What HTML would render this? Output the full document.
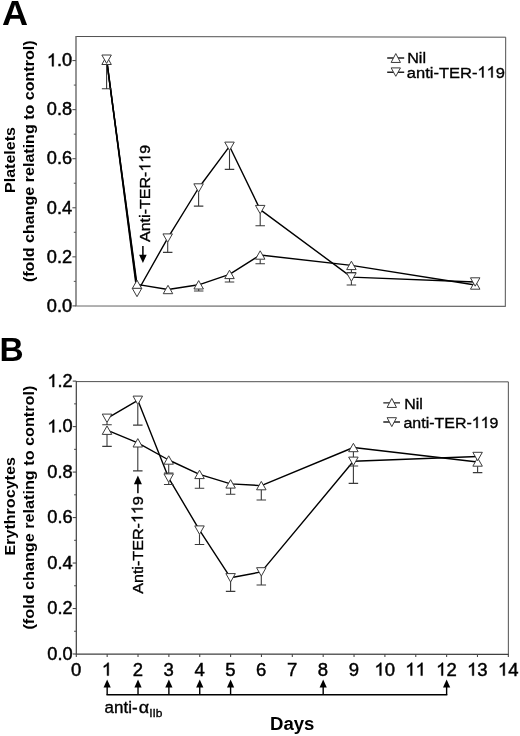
<!DOCTYPE html>
<html><head><meta charset="utf-8"><title>Figure</title>
<style>
html,body{margin:0;padding:0;background:#fff;}
svg{display:block;will-change:transform;filter:grayscale(1);}
text{font-family:"Liberation Sans",sans-serif;fill:#000;font-kerning:none;}
.h{fill:none;stroke:none;}
</style></head><body>
<svg width="520" height="736" viewBox="0 0 520 736">
<rect x="0" y="0" width="520" height="736" fill="#fff"/>
<path d="M76.0 36.5L505.7 37.2L505.3 306.4" fill="none" stroke="#505050" stroke-width="1"/>
<path d="M76.0 36.0L76.0 305.9L505.8 306.4" fill="none" stroke="#6a6a6a" stroke-width="1.4"/>
<path d="M72.4 305.90L76.0 305.90" stroke="#555" stroke-width="1.1"/>
<text transform="translate(72.20,311.65) scale(1.03,1)" text-anchor="end" style="font-size:17.7px;stroke:#000;stroke-width:0.45px;">0.0</text>
<path d="M73.8 281.36L76.0 281.36" stroke="#555" stroke-width="1"/>
<path d="M72.4 256.83L76.0 256.83" stroke="#555" stroke-width="1.1"/>
<text transform="translate(72.20,262.58) scale(1.03,1)" text-anchor="end" style="font-size:17.7px;stroke:#000;stroke-width:0.45px;">0.2</text>
<path d="M73.8 232.29L76.0 232.29" stroke="#555" stroke-width="1"/>
<path d="M72.4 207.76L76.0 207.76" stroke="#555" stroke-width="1.1"/>
<text transform="translate(72.20,213.51) scale(1.03,1)" text-anchor="end" style="font-size:17.7px;stroke:#000;stroke-width:0.45px;">0.4</text>
<path d="M73.8 183.22L76.0 183.22" stroke="#555" stroke-width="1"/>
<path d="M72.4 158.69L76.0 158.69" stroke="#555" stroke-width="1.1"/>
<text transform="translate(72.20,164.44) scale(1.03,1)" text-anchor="end" style="font-size:17.7px;stroke:#000;stroke-width:0.45px;">0.6</text>
<path d="M73.8 134.16L76.0 134.16" stroke="#555" stroke-width="1"/>
<path d="M72.4 109.62L76.0 109.62" stroke="#555" stroke-width="1.1"/>
<text transform="translate(72.20,115.37) scale(1.03,1)" text-anchor="end" style="font-size:17.7px;stroke:#000;stroke-width:0.45px;">0.8</text>
<path d="M73.8 85.08L76.0 85.08" stroke="#555" stroke-width="1"/>
<path d="M72.4 60.55L76.0 60.55" stroke="#555" stroke-width="1.1"/>
<g transform="translate(72.20,66.30) scale(1.03,1)"><text id="t1" text-anchor="end" style="font-size:17.7px;stroke:#000;stroke-width:0.45px;"><tspan class="h">1</tspan>.0</text><path d="M763 0H583V1147Q518 1085 412.5 1023T223 930V1104Q374 1175 487 1276T647 1472H763Z" transform="translate(-24.612,0.000) scale(0.008643,-0.008643)" fill="#000" stroke="#000" stroke-width="52.1"/></g>
<path d="M106.60 60.30L137.00 284.40L168.00 289.50L198.70 284.80L229.50 274.40L260.20 255.00L351.40 265.40L475.20 285.00" fill="none" stroke="#000" stroke-width="1.4" stroke-linejoin="round"/>
<path d="M106.60 59.20L137.00 292.50L167.70 238.10L198.60 188.00L229.50 146.30L260.20 209.60L351.40 277.10L475.20 282.00" fill="none" stroke="#000" stroke-width="1.4" stroke-linejoin="round"/>
<path d="M106.70 60.00L137.00 288.00" fill="none" stroke="#000" stroke-width="1.5" stroke-linejoin="round"/>
<path d="M106.60 64.50L106.60 88.70M101.85 88.70L111.35 88.70" fill="none" stroke="#3a3a3a" stroke-width="1.1"/>
<path d="M198.70 289.00L198.70 291.00M193.95 291.00L203.45 291.00" fill="none" stroke="#3a3a3a" stroke-width="1.1"/>
<path d="M229.50 278.60L229.50 282.00M224.75 282.00L234.25 282.00" fill="none" stroke="#3a3a3a" stroke-width="1.1"/>
<path d="M260.20 259.20L260.20 263.70M255.45 263.70L264.95 263.70" fill="none" stroke="#3a3a3a" stroke-width="1.1"/>
<path d="M351.40 269.60L351.40 272.50M346.65 272.50L356.15 272.50" fill="none" stroke="#3a3a3a" stroke-width="1.1"/>
<path d="M167.70 242.30L167.70 252.40M162.95 252.40L172.45 252.40" fill="none" stroke="#3a3a3a" stroke-width="1.1"/>
<path d="M198.60 192.20L198.60 206.10M193.85 206.10L203.35 206.10" fill="none" stroke="#3a3a3a" stroke-width="1.1"/>
<path d="M229.50 150.50L229.50 169.40M224.75 169.40L234.25 169.40" fill="none" stroke="#3a3a3a" stroke-width="1.1"/>
<path d="M260.20 213.80L260.20 225.70M255.45 225.70L264.95 225.70" fill="none" stroke="#3a3a3a" stroke-width="1.1"/>
<path d="M351.40 281.30L351.40 285.00M346.65 285.00L356.15 285.00" fill="none" stroke="#3a3a3a" stroke-width="1.1"/>
<path d="M101.85 64.50L111.35 64.50L106.60 56.10Z" fill="#fff" stroke="#3a3a3a" stroke-width="1"/>
<path d="M132.25 288.60L141.75 288.60L137.00 280.20Z" fill="#fff" stroke="#3a3a3a" stroke-width="1"/>
<path d="M163.25 293.70L172.75 293.70L168.00 285.30Z" fill="#fff" stroke="#3a3a3a" stroke-width="1"/>
<path d="M193.95 289.00L203.45 289.00L198.70 280.60Z" fill="#fff" stroke="#3a3a3a" stroke-width="1"/>
<path d="M224.75 278.60L234.25 278.60L229.50 270.20Z" fill="#fff" stroke="#3a3a3a" stroke-width="1"/>
<path d="M255.45 259.20L264.95 259.20L260.20 250.80Z" fill="#fff" stroke="#3a3a3a" stroke-width="1"/>
<path d="M346.65 269.60L356.15 269.60L351.40 261.20Z" fill="#fff" stroke="#3a3a3a" stroke-width="1"/>
<path d="M470.45 289.20L479.95 289.20L475.20 280.80Z" fill="#fff" stroke="#3a3a3a" stroke-width="1"/>
<path d="M101.85 55.00L111.35 55.00L106.60 63.40Z" fill="#fff" stroke="#3a3a3a" stroke-width="1"/>
<path d="M132.25 288.30L141.75 288.30L137.00 296.70Z" fill="#fff" stroke="#3a3a3a" stroke-width="1"/>
<path d="M162.95 233.90L172.45 233.90L167.70 242.30Z" fill="#fff" stroke="#3a3a3a" stroke-width="1"/>
<path d="M193.85 183.80L203.35 183.80L198.60 192.20Z" fill="#fff" stroke="#3a3a3a" stroke-width="1"/>
<path d="M224.75 142.10L234.25 142.10L229.50 150.50Z" fill="#fff" stroke="#3a3a3a" stroke-width="1"/>
<path d="M255.45 205.40L264.95 205.40L260.20 213.80Z" fill="#fff" stroke="#3a3a3a" stroke-width="1"/>
<path d="M346.65 272.90L356.15 272.90L351.40 281.30Z" fill="#fff" stroke="#3a3a3a" stroke-width="1"/>
<path d="M470.45 277.80L479.95 277.80L475.20 286.20Z" fill="#fff" stroke="#3a3a3a" stroke-width="1"/>
<path d="M387.2 58L404.2 58M387.2 72.25L404.2 72.25" stroke="#222" stroke-width="1.3"/>
<path d="M391.15 62.45L400.45 62.45L395.80 53.55Z" fill="#fff" stroke="#3a3a3a" stroke-width="1"/>
<path d="M391.15 67.90L400.45 67.90L395.80 76.30Z" fill="#fff" stroke="#3a3a3a" stroke-width="1"/>
<text transform="translate(407.20,63.40) scale(1.04,1)" style="font-size:15.5px;stroke:#000;stroke-width:0.35px;">Nil</text>
<g transform="translate(406.80,77.50) scale(1.065,1)"><text id="t2" style="font-size:15.5px;stroke:#000;stroke-width:0.35px;">anti-TER-<tspan class="h">1</tspan><tspan class="h">1</tspan>9</text><path d="M763 0H583V1147Q518 1085 412.5 1023T223 930V1104Q374 1175 487 1276T647 1472H763Z" transform="translate(66.266,0.000) scale(0.007568,-0.007568)" fill="#000" stroke="#000" stroke-width="46.2"/><path d="M763 0H583V1147Q518 1085 412.5 1023T223 930V1104Q374 1175 487 1276T647 1472H763Z" transform="translate(74.887,0.000) scale(0.007568,-0.007568)" fill="#000" stroke="#000" stroke-width="46.2"/></g>
<g transform="translate(150.30,242.00) rotate(-90) scale(1.035,1)"><text id="t3" style="font-size:15.5px;stroke:#000;stroke-width:0.35px;">Anti-TER-<tspan class="h">1</tspan><tspan class="h">1</tspan>9</text><path d="M763 0H583V1147Q518 1085 412.5 1023T223 930V1104Q374 1175 487 1276T647 1472H763Z" transform="translate(68.003,0.000) scale(0.007568,-0.007568)" fill="#000" stroke="#000" stroke-width="46.2"/><path d="M763 0H583V1147Q518 1085 412.5 1023T223 930V1104Q374 1175 487 1276T647 1472H763Z" transform="translate(76.632,0.000) scale(0.007568,-0.007568)" fill="#000" stroke="#000" stroke-width="46.2"/></g>
<path d="M142.9 245.9L142.9 257" stroke="#000" stroke-width="1.5"/>
<path d="M139.1 254.8L146.7 254.8L142.9 263.0Z" fill="#000"/>
<text transform="translate(15.20,160.05) rotate(-90) scale(1.047,1)" text-anchor="middle" style="font-size:15.3px;font-weight:bold;">Platelets</text>
<text transform="translate(33.65,161.30) rotate(-90) scale(1.05,1)" text-anchor="middle" style="font-size:15.3px;font-weight:bold;">(fold change relating to control)</text>
<text transform="translate(2.10,24.90) scale(1.04,1)" style="font-size:34.7px;font-weight:bold;">A</text>
<text transform="translate(-0.40,361.40)" style="font-size:33.4px;font-weight:bold;">B</text>
<path d="M76.3 381.6L508.35 381.85L508.35 654.3" fill="none" stroke="#505050" stroke-width="1"/>
<path d="M76.3 381.1L76.3 654.1L508.65000000000003 654.4" fill="none" stroke="#404040" stroke-width="1.2"/>
<path d="M72.7 654.00L76.3 654.00" stroke="#484848" stroke-width="1.1"/>
<text transform="translate(72.70,659.85) scale(1.03,1)" text-anchor="end" style="font-size:17.7px;stroke:#000;stroke-width:0.45px;">0.0</text>
<path d="M74.1 631.26L76.3 631.26" stroke="#484848" stroke-width="1"/>
<path d="M72.7 608.52L76.3 608.52" stroke="#484848" stroke-width="1.1"/>
<text transform="translate(72.70,614.37) scale(1.03,1)" text-anchor="end" style="font-size:17.7px;stroke:#000;stroke-width:0.45px;">0.2</text>
<path d="M74.1 585.78L76.3 585.78" stroke="#484848" stroke-width="1"/>
<path d="M72.7 563.04L76.3 563.04" stroke="#484848" stroke-width="1.1"/>
<text transform="translate(72.70,568.89) scale(1.03,1)" text-anchor="end" style="font-size:17.7px;stroke:#000;stroke-width:0.45px;">0.4</text>
<path d="M74.1 540.30L76.3 540.30" stroke="#484848" stroke-width="1"/>
<path d="M72.7 517.56L76.3 517.56" stroke="#484848" stroke-width="1.1"/>
<text transform="translate(72.70,523.41) scale(1.03,1)" text-anchor="end" style="font-size:17.7px;stroke:#000;stroke-width:0.45px;">0.6</text>
<path d="M74.1 494.82L76.3 494.82" stroke="#484848" stroke-width="1"/>
<path d="M72.7 472.08L76.3 472.08" stroke="#484848" stroke-width="1.1"/>
<text transform="translate(72.70,477.93) scale(1.03,1)" text-anchor="end" style="font-size:17.7px;stroke:#000;stroke-width:0.45px;">0.8</text>
<path d="M74.1 449.34L76.3 449.34" stroke="#484848" stroke-width="1"/>
<path d="M72.7 426.60L76.3 426.60" stroke="#484848" stroke-width="1.1"/>
<g transform="translate(72.70,432.45) scale(1.03,1)"><text id="t4" text-anchor="end" style="font-size:17.7px;stroke:#000;stroke-width:0.45px;"><tspan class="h">1</tspan>.0</text><path d="M763 0H583V1147Q518 1085 412.5 1023T223 930V1104Q374 1175 487 1276T647 1472H763Z" transform="translate(-24.612,0.000) scale(0.008643,-0.008643)" fill="#000" stroke="#000" stroke-width="52.1"/></g>
<path d="M74.1 403.86L76.3 403.86" stroke="#484848" stroke-width="1"/>
<path d="M72.7 381.12L76.3 381.12" stroke="#484848" stroke-width="1.1"/>
<g transform="translate(72.70,386.97) scale(1.03,1)"><text id="t5" text-anchor="end" style="font-size:17.7px;stroke:#000;stroke-width:0.45px;"><tspan class="h">1</tspan>.2</text><path d="M763 0H583V1147Q518 1085 412.5 1023T223 930V1104Q374 1175 487 1276T647 1472H763Z" transform="translate(-24.612,0.000) scale(0.008643,-0.008643)" fill="#000" stroke="#000" stroke-width="52.1"/></g>
<path d="M76.30 654.0L76.30 657.0" stroke="#484848" stroke-width="1.1"/>
<text transform="translate(76.10,675.60) scale(1.035,1)" text-anchor="middle" style="font-size:17.9px;stroke:#000;stroke-width:0.45px;">0</text>
<path d="M107.16 654.0L107.16 657.0" stroke="#484848" stroke-width="1.1"/>
<g transform="translate(106.96,675.60) scale(1.035,1)"><text id="t6" text-anchor="middle" style="font-size:17.9px;stroke:#000;stroke-width:0.45px;"><tspan class="h">1</tspan></text><path d="M763 0H583V1147Q518 1085 412.5 1023T223 930V1104Q374 1175 487 1276T647 1472H763Z" transform="translate(-4.975,0.000) scale(0.008740,-0.008740)" fill="#000" stroke="#000" stroke-width="51.5"/></g>
<path d="M138.02 654.0L138.02 657.0" stroke="#484848" stroke-width="1.1"/>
<text transform="translate(137.82,675.60) scale(1.035,1)" text-anchor="middle" style="font-size:17.9px;stroke:#000;stroke-width:0.45px;">2</text>
<path d="M168.88 654.0L168.88 657.0" stroke="#484848" stroke-width="1.1"/>
<text transform="translate(168.68,675.60) scale(1.035,1)" text-anchor="middle" style="font-size:17.9px;stroke:#000;stroke-width:0.45px;">3</text>
<path d="M199.74 654.0L199.74 657.0" stroke="#484848" stroke-width="1.1"/>
<text transform="translate(199.54,675.60) scale(1.035,1)" text-anchor="middle" style="font-size:17.9px;stroke:#000;stroke-width:0.45px;">4</text>
<path d="M230.60 654.0L230.60 657.0" stroke="#484848" stroke-width="1.1"/>
<text transform="translate(230.40,675.60) scale(1.035,1)" text-anchor="middle" style="font-size:17.9px;stroke:#000;stroke-width:0.45px;">5</text>
<path d="M261.46 654.0L261.46 657.0" stroke="#484848" stroke-width="1.1"/>
<text transform="translate(261.26,675.60) scale(1.035,1)" text-anchor="middle" style="font-size:17.9px;stroke:#000;stroke-width:0.45px;">6</text>
<path d="M292.32 654.0L292.32 657.0" stroke="#484848" stroke-width="1.1"/>
<text transform="translate(292.12,675.60) scale(1.035,1)" text-anchor="middle" style="font-size:17.9px;stroke:#000;stroke-width:0.45px;">7</text>
<path d="M323.18 654.0L323.18 657.0" stroke="#484848" stroke-width="1.1"/>
<text transform="translate(322.98,675.60) scale(1.035,1)" text-anchor="middle" style="font-size:17.9px;stroke:#000;stroke-width:0.45px;">8</text>
<path d="M354.04 654.0L354.04 657.0" stroke="#484848" stroke-width="1.1"/>
<text transform="translate(353.84,675.60) scale(1.035,1)" text-anchor="middle" style="font-size:17.9px;stroke:#000;stroke-width:0.45px;">9</text>
<path d="M384.90 654.0L384.90 657.0" stroke="#484848" stroke-width="1.1"/>
<g transform="translate(384.70,675.60) scale(1.035,1)"><text id="t7" text-anchor="middle" style="font-size:17.9px;stroke:#000;stroke-width:0.45px;"><tspan class="h">1</tspan>0</text><path d="M763 0H583V1147Q518 1085 412.5 1023T223 930V1104Q374 1175 487 1276T647 1472H763Z" transform="translate(-9.949,0.000) scale(0.008740,-0.008740)" fill="#000" stroke="#000" stroke-width="51.5"/></g>
<path d="M415.76 654.0L415.76 657.0" stroke="#484848" stroke-width="1.1"/>
<g transform="translate(415.56,675.60) scale(1.035,1)"><text id="t8" text-anchor="middle" style="font-size:17.9px;stroke:#000;stroke-width:0.45px;"><tspan class="h">1</tspan><tspan class="h">1</tspan></text><path d="M763 0H583V1147Q518 1085 412.5 1023T223 930V1104Q374 1175 487 1276T647 1472H763Z" transform="translate(-9.949,0.000) scale(0.008740,-0.008740)" fill="#000" stroke="#000" stroke-width="51.5"/><path d="M763 0H583V1147Q518 1085 412.5 1023T223 930V1104Q374 1175 487 1276T647 1472H763Z" transform="translate(0.000,0.000) scale(0.008740,-0.008740)" fill="#000" stroke="#000" stroke-width="51.5"/></g>
<path d="M446.62 654.0L446.62 657.0" stroke="#484848" stroke-width="1.1"/>
<g transform="translate(446.42,675.60) scale(1.035,1)"><text id="t9" text-anchor="middle" style="font-size:17.9px;stroke:#000;stroke-width:0.45px;"><tspan class="h">1</tspan>2</text><path d="M763 0H583V1147Q518 1085 412.5 1023T223 930V1104Q374 1175 487 1276T647 1472H763Z" transform="translate(-9.949,0.000) scale(0.008740,-0.008740)" fill="#000" stroke="#000" stroke-width="51.5"/></g>
<path d="M477.48 654.0L477.48 657.0" stroke="#484848" stroke-width="1.1"/>
<g transform="translate(477.28,675.60) scale(1.035,1)"><text id="t10" text-anchor="middle" style="font-size:17.9px;stroke:#000;stroke-width:0.45px;"><tspan class="h">1</tspan>3</text><path d="M763 0H583V1147Q518 1085 412.5 1023T223 930V1104Q374 1175 487 1276T647 1472H763Z" transform="translate(-9.949,0.000) scale(0.008740,-0.008740)" fill="#000" stroke="#000" stroke-width="51.5"/></g>
<path d="M508.34 654.0L508.34 657.0" stroke="#484848" stroke-width="1.1"/>
<g transform="translate(508.14,675.60) scale(1.035,1)"><text id="t11" text-anchor="middle" style="font-size:17.9px;stroke:#000;stroke-width:0.45px;"><tspan class="h">1</tspan>4</text><path d="M763 0H583V1147Q518 1085 412.5 1023T223 930V1104Q374 1175 487 1276T647 1472H763Z" transform="translate(-9.949,0.000) scale(0.008740,-0.008740)" fill="#000" stroke="#000" stroke-width="51.5"/></g>
<path d="M107.00 430.20L137.80 442.80L168.70 460.00L199.50 474.40L230.60 483.90L261.30 485.60L353.40 447.50L477.60 462.00" fill="none" stroke="#000" stroke-width="1.4" stroke-linejoin="round"/>
<path d="M107.00 418.30L137.80 400.30L168.70 478.10L199.50 530.10L230.60 577.80L261.30 571.90L353.40 461.30L477.60 456.50" fill="none" stroke="#000" stroke-width="1.4" stroke-linejoin="round"/>
<path d="M107.00 434.40L107.00 446.40M102.25 446.40L111.75 446.40" fill="none" stroke="#3a3a3a" stroke-width="1.1"/>
<path d="M137.80 447.00L137.80 470.90M133.05 470.90L142.55 470.90" fill="none" stroke="#3a3a3a" stroke-width="1.1"/>
<path d="M168.70 464.20L168.70 473.00M163.95 473.00L173.45 473.00" fill="none" stroke="#3a3a3a" stroke-width="1.1"/>
<path d="M199.50 478.60L199.50 488.30M194.75 488.30L204.25 488.30" fill="none" stroke="#3a3a3a" stroke-width="1.1"/>
<path d="M230.60 488.10L230.60 494.30M225.85 494.30L235.35 494.30" fill="none" stroke="#3a3a3a" stroke-width="1.1"/>
<path d="M261.30 489.80L261.30 500.00M256.55 500.00L266.05 500.00" fill="none" stroke="#3a3a3a" stroke-width="1.1"/>
<path d="M353.40 451.70L353.40 466.00M348.65 466.00L358.15 466.00" fill="none" stroke="#3a3a3a" stroke-width="1.1"/>
<path d="M477.60 466.20L477.60 472.60M472.85 472.60L482.35 472.60" fill="none" stroke="#3a3a3a" stroke-width="1.1"/>
<path d="M107.00 422.50L107.00 424.80M102.25 424.80L111.75 424.80" fill="none" stroke="#3a3a3a" stroke-width="1.1"/>
<path d="M137.80 404.50L137.80 425.10M133.05 425.10L142.55 425.10" fill="none" stroke="#3a3a3a" stroke-width="1.1"/>
<path d="M168.70 482.30L168.70 484.50M163.95 484.50L173.45 484.50" fill="none" stroke="#3a3a3a" stroke-width="1.1"/>
<path d="M199.50 534.30L199.50 544.50M194.75 544.50L204.25 544.50" fill="none" stroke="#3a3a3a" stroke-width="1.1"/>
<path d="M230.60 582.00L230.60 591.40M225.85 591.40L235.35 591.40" fill="none" stroke="#3a3a3a" stroke-width="1.1"/>
<path d="M261.30 576.10L261.30 585.00M256.55 585.00L266.05 585.00" fill="none" stroke="#3a3a3a" stroke-width="1.1"/>
<path d="M353.40 465.50L353.40 483.40M348.65 483.40L358.15 483.40" fill="none" stroke="#3a3a3a" stroke-width="1.1"/>
<path d="M102.25 434.40L111.75 434.40L107.00 426.00Z" fill="#fff" stroke="#3a3a3a" stroke-width="1"/>
<path d="M133.05 447.00L142.55 447.00L137.80 438.60Z" fill="#fff" stroke="#3a3a3a" stroke-width="1"/>
<path d="M163.95 464.20L173.45 464.20L168.70 455.80Z" fill="#fff" stroke="#3a3a3a" stroke-width="1"/>
<path d="M194.75 478.60L204.25 478.60L199.50 470.20Z" fill="#fff" stroke="#3a3a3a" stroke-width="1"/>
<path d="M225.85 488.10L235.35 488.10L230.60 479.70Z" fill="#fff" stroke="#3a3a3a" stroke-width="1"/>
<path d="M256.55 489.80L266.05 489.80L261.30 481.40Z" fill="#fff" stroke="#3a3a3a" stroke-width="1"/>
<path d="M348.65 451.70L358.15 451.70L353.40 443.30Z" fill="#fff" stroke="#3a3a3a" stroke-width="1"/>
<path d="M472.85 466.20L482.35 466.20L477.60 457.80Z" fill="#fff" stroke="#3a3a3a" stroke-width="1"/>
<path d="M102.25 414.10L111.75 414.10L107.00 422.50Z" fill="#fff" stroke="#3a3a3a" stroke-width="1"/>
<path d="M133.05 396.10L142.55 396.10L137.80 404.50Z" fill="#fff" stroke="#3a3a3a" stroke-width="1"/>
<path d="M163.95 473.90L173.45 473.90L168.70 482.30Z" fill="#fff" stroke="#3a3a3a" stroke-width="1"/>
<path d="M194.75 525.90L204.25 525.90L199.50 534.30Z" fill="#fff" stroke="#3a3a3a" stroke-width="1"/>
<path d="M225.85 573.60L235.35 573.60L230.60 582.00Z" fill="#fff" stroke="#3a3a3a" stroke-width="1"/>
<path d="M256.55 567.70L266.05 567.70L261.30 576.10Z" fill="#fff" stroke="#3a3a3a" stroke-width="1"/>
<path d="M348.65 457.10L358.15 457.10L353.40 465.50Z" fill="#fff" stroke="#3a3a3a" stroke-width="1"/>
<path d="M472.85 452.30L482.35 452.30L477.60 460.70Z" fill="#fff" stroke="#3a3a3a" stroke-width="1"/>
<path d="M383.3 402.95L400 402.95M383.3 422L400 422" stroke="#222" stroke-width="1.3"/>
<path d="M387.10 407.45L396.50 407.45L391.80 398.45Z" fill="#fff" stroke="#3a3a3a" stroke-width="1"/>
<path d="M387.10 417.70L396.50 417.70L391.80 426.60Z" fill="#fff" stroke="#3a3a3a" stroke-width="1"/>
<text transform="translate(404.30,408.80) scale(1.03,1)" style="font-size:15.5px;stroke:#000;stroke-width:0.35px;">Nil</text>
<g transform="translate(403.50,428.00) scale(1.03,1)"><text id="t12" style="font-size:15.5px;stroke:#000;stroke-width:0.35px;">anti-TER-<tspan class="h">1</tspan><tspan class="h">1</tspan>9</text><path d="M763 0H583V1147Q518 1085 412.5 1023T223 930V1104Q374 1175 487 1276T647 1472H763Z" transform="translate(66.249,0.000) scale(0.007568,-0.007568)" fill="#000" stroke="#000" stroke-width="46.2"/><path d="M763 0H583V1147Q518 1085 412.5 1023T223 930V1104Q374 1175 487 1276T647 1472H763Z" transform="translate(74.869,0.000) scale(0.007568,-0.007568)" fill="#000" stroke="#000" stroke-width="46.2"/></g>
<g transform="translate(142.70,593.80) rotate(-90) scale(1.04,1)"><text id="t13" style="font-size:15.5px;stroke:#000;stroke-width:0.35px;">Anti-TER-<tspan class="h">1</tspan><tspan class="h">1</tspan>9</text><path d="M763 0H583V1147Q518 1085 412.5 1023T223 930V1104Q374 1175 487 1276T647 1472H763Z" transform="translate(67.971,0.000) scale(0.007568,-0.007568)" fill="#000" stroke="#000" stroke-width="46.2"/><path d="M763 0H583V1147Q518 1085 412.5 1023T223 930V1104Q374 1175 487 1276T647 1472H763Z" transform="translate(76.594,0.000) scale(0.007568,-0.007568)" fill="#000" stroke="#000" stroke-width="46.2"/></g>
<path d="M137.9 482L137.9 493.2" stroke="#000" stroke-width="1.5"/>
<path d="M133.9 484.2L141.9 484.2L137.9 475.6Z" fill="#000"/>
<text transform="translate(15.00,506.35) rotate(-90) scale(1.053,1)" text-anchor="middle" style="font-size:15.3px;font-weight:bold;">Erythrocytes</text>
<text transform="translate(33.65,507.60) rotate(-90) scale(1.0595,1)" text-anchor="middle" style="font-size:15.3px;font-weight:bold;">(fold change relating to control)</text>
<path d="M106.46 694.8L447.32 694.8" stroke="#000" stroke-width="1.4"/>
<path d="M107.16 694.8L107.16 685" stroke="#000" stroke-width="1.4"/>
<path d="M103.56 687.6L110.76 687.6L107.16 679.6Z" fill="#000"/>
<path d="M138.02 694.8L138.02 685" stroke="#000" stroke-width="1.4"/>
<path d="M134.42 687.6L141.62 687.6L138.02 679.6Z" fill="#000"/>
<path d="M168.88 694.8L168.88 685" stroke="#000" stroke-width="1.4"/>
<path d="M165.28 687.6L172.48 687.6L168.88 679.6Z" fill="#000"/>
<path d="M199.74 694.8L199.74 685" stroke="#000" stroke-width="1.4"/>
<path d="M196.14 687.6L203.34 687.6L199.74 679.6Z" fill="#000"/>
<path d="M230.60 694.8L230.60 685" stroke="#000" stroke-width="1.4"/>
<path d="M227.00 687.6L234.20 687.6L230.60 679.6Z" fill="#000"/>
<path d="M323.18 694.8L323.18 685" stroke="#000" stroke-width="1.4"/>
<path d="M319.58 687.6L326.78 687.6L323.18 679.6Z" fill="#000"/>
<path d="M446.62 694.8L446.62 685" stroke="#000" stroke-width="1.4"/>
<path d="M443.02 687.6L450.22 687.6L446.62 679.6Z" fill="#000"/>
<text transform="translate(104.60,712.70) scale(1.04,1)" style="font-size:16.3px;stroke:#000;stroke-width:0.35px;">anti-</text>
<text transform="translate(138.80,712.70) scale(1.1,1)" style="font-size:16.3px;stroke:#000;stroke-width:0.35px;">α</text>
<text transform="translate(149.20,716.90) scale(1.12,1)" style="font-size:10.7px;stroke:#000;stroke-width:0.3px;">IIb</text>
<text transform="translate(270.00,729.50) scale(1.055,1)" style="font-size:17.6px;font-weight:bold;">Days</text>
</svg>
</body></html>
